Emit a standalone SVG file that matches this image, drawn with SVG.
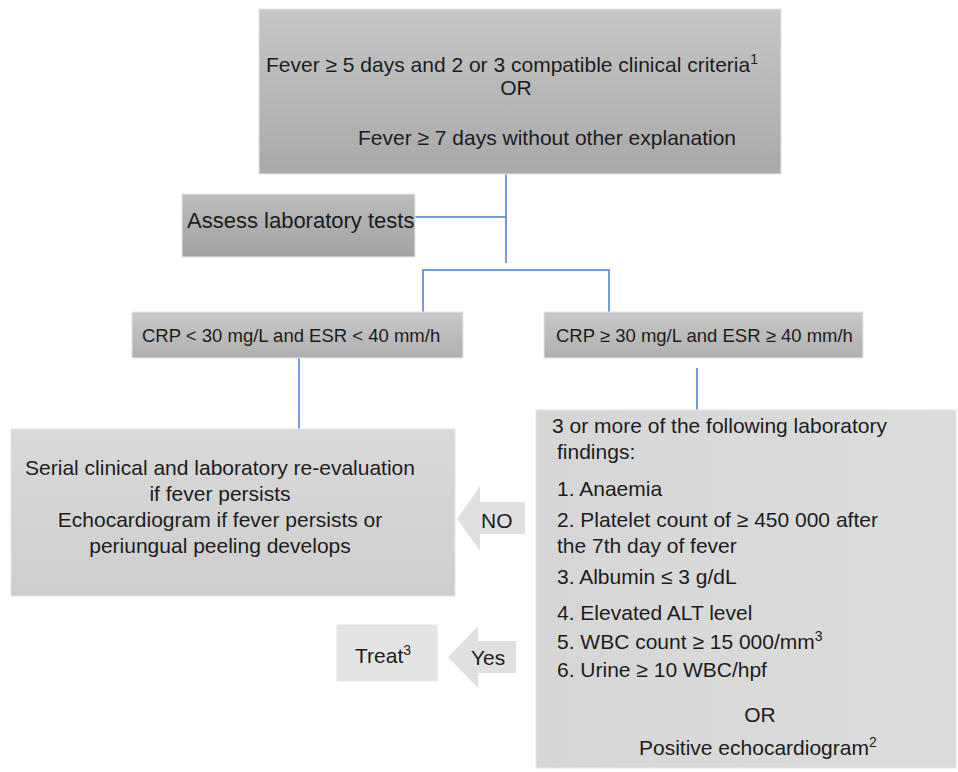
<svg xmlns="http://www.w3.org/2000/svg" width="958" height="772" viewBox="0 0 958 772">
<defs>
<linearGradient id="gTop" x1="0" y1="0" x2="0" y2="1"><stop offset="0" stop-color="#c6c6c6"/><stop offset="1" stop-color="#a9a9a9"/></linearGradient>
<linearGradient id="gAssess" x1="0" y1="0" x2="0" y2="1"><stop offset="0" stop-color="#bcbcbc"/><stop offset="1" stop-color="#a2a2a2"/></linearGradient>
<linearGradient id="gCrp" x1="0" y1="0" x2="0" y2="1"><stop offset="0" stop-color="#c9c9c9"/><stop offset="1" stop-color="#afafaf"/></linearGradient>
<linearGradient id="gLight" x1="0" y1="0" x2="0" y2="1"><stop offset="0" stop-color="#d9d9d9"/><stop offset="1" stop-color="#cecece"/></linearGradient>
<linearGradient id="gRight" x1="0" y1="0" x2="1" y2="0"><stop offset="0" stop-color="#d6d6d6"/><stop offset="1" stop-color="#dcdcdc"/></linearGradient>
</defs>
<style>
text{font-family:"Liberation Sans",Arial,sans-serif;fill:#1c1c1c;}
.t21{font-size:21px;}
.t22{font-size:22px;}
.t18{font-size:18.5px;}
.box{stroke:#e6e6e6;stroke-width:1;}
.conn{stroke:#4a78d6;stroke-width:1.5;fill:none;}
.arrow{fill:#e0e0e0;}
</style>
<rect width="958" height="772" fill="#ffffff"/>
<g id="connectors">
<line class="conn" x1="506" y1="174" x2="506" y2="263"/>
<line class="conn" x1="415" y1="217" x2="506" y2="217"/>
<polyline class="conn" points="423,312 423,270 609,270 609,312"/>
<line class="conn" x1="299" y1="358" x2="299" y2="429"/>
<line class="conn" x1="697" y1="368" x2="697" y2="410"/>
</g>
<g id="top">
<rect class="box" x="259" y="9" width="522" height="165" fill="url(#gTop)"/>
<text class="t21" x="512" y="72" text-anchor="middle">Fever ≥ 5 days and 2 or 3 compatible clinical criteria<tspan font-size="14" dy="-8">1</tspan></text>
<text class="t21" x="516" y="95" text-anchor="middle">OR</text>
<text class="t21" x="547" y="145" text-anchor="middle">Fever ≥ 7 days without other explanation</text>
</g>
<g id="assess">
<rect class="box" x="182" y="194" width="233" height="63" fill="url(#gAssess)"/>
<text class="t22" x="187" y="228">Assess laboratory tests</text>
</g>
<g id="crp-low">
<rect class="box" x="132" y="312" width="331" height="46" fill="url(#gCrp)"/>
<text class="t18" x="142" y="342">CRP &lt; 30 mg/L and ESR &lt; 40 mm/h</text>
</g>
<g id="crp-high">
<rect class="box" x="544" y="312" width="319" height="46" fill="url(#gCrp)"/>
<text class="t18" x="556" y="342">CRP ≥ 30 mg/L and ESR ≥ 40 mm/h</text>
</g>
<g id="reevaluate">
<rect class="box" x="11" y="429" width="444" height="167" fill="url(#gLight)"/>
<text class="t21" x="220" y="475" text-anchor="middle">Serial clinical and laboratory re-evaluation</text>
<text class="t21" x="220" y="501" text-anchor="middle">if fever persists</text>
<text class="t21" x="220" y="527" text-anchor="middle">Echocardiogram if fever persists or</text>
<text class="t21" x="220" y="553" text-anchor="middle">periungual peeling develops</text>
</g>
<g id="no-arrow">
<polygon class="arrow" points="457,519 480,486 480,502 525,502 525,534 480,534 480,551"/>
<text class="t21" x="481" y="528">NO</text>
</g>
<g id="findings">
<rect class="box" x="536" y="410" width="420" height="358" fill="url(#gRight)"/>
<text class="t21" x="552" y="433">3 or more of the following laboratory</text>
<text class="t21" x="557" y="459">findings:</text>
<text class="t21" x="557" y="496">1. Anaemia</text>
<text class="t21" x="557" y="527">2. Platelet count of ≥ 450 000 after</text>
<text class="t21" x="557" y="553">the 7th day of fever</text>
<text class="t21" x="557" y="584">3. Albumin ≤ 3 g/dL</text>
<text class="t21" x="557" y="620">4. Elevated ALT level</text>
<text class="t21" x="557" y="649">5. WBC count ≥ 15 000/mm<tspan font-size="14" dy="-8">3</tspan></text>
<text class="t21" x="557" y="677">6. Urine ≥ 10 WBC/hpf</text>
<text class="t21" x="760" y="722" text-anchor="middle">OR</text>
<text class="t21" x="639" y="755">Positive echocardiogram<tspan font-size="14" dy="-8">2</tspan></text>
</g>
<g id="yes-arrow">
<polygon class="arrow" points="448,657 478,626 478,641 516,641 516,673 478,673 478,688"/>
<text class="t21" x="471" y="665">Yes</text>
</g>
<g id="treat">
<rect class="box" x="337" y="625" width="100" height="56" fill="#e4e4e4"/>
<text class="t21" x="355" y="663">Treat<tspan font-size="14" dy="-8">3</tspan></text>
</g>
</svg>
